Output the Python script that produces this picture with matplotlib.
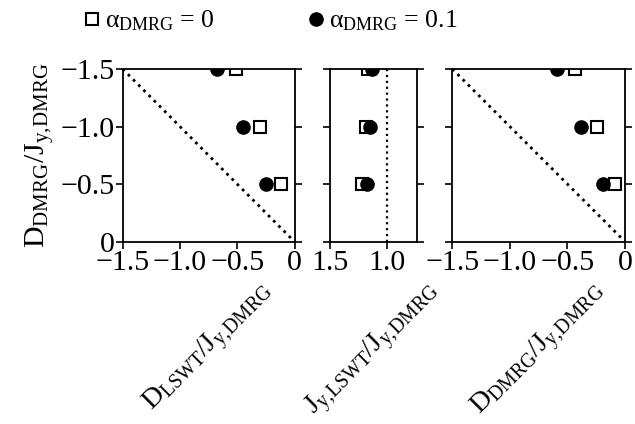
import numpy as np
import matplotlib
matplotlib.use("Agg")
from matplotlib import pyplot as plt

plt.rcParams['font.family'] = ['Liberation Serif', 'DejaVu Serif']
plt.rcParams['mathtext.fontset'] = 'custom'
plt.rcParams['mathtext.rm'] = 'Liberation Serif'
plt.rcParams['mathtext.it'] = 'Liberation Serif:italic'
plt.rcParams['mathtext.bf'] = 'Liberation Serif:bold'

# input D/J_y used in the DMRG runs
d_input = [-0.5, -1.0, -1.5]

# fitted values, alpha_DMRG = 0 (open squares) and 0.1 (filled circles)
d_lswt_a0 = [-0.115, -0.30, -0.51]
d_lswt_a01 = [-0.245, -0.45, -0.675]
j_lswt_a0 = [1.22, 1.19, 1.17]
j_lswt_a01 = [1.18, 1.15, 1.13]
d_dmrg_a0 = [-0.085, -0.245, -0.435]
d_dmrg_a01 = [-0.195, -0.385, -0.595]

d_ticks = [-1.5, -1.0, -0.5, 0]
d_tick_labels = ['\u22121.5', '\u22121.0', '\u22120.5', '0']
j_ticks = [1.5, 1.0]
j_tick_labels = ['1.5', '1.0']

fs_tick = 21.5
fs_label = 20.3

fig = plt.figure(figsize=(6.35, 4.24), dpi=100)
bottom, height = 0.430, 0.4073
ax1 = fig.add_axes([0.1932, bottom, 0.2706, height])
ax2 = fig.add_axes([0.5197, bottom, 0.1365, height])
ax3 = fig.add_axes([0.7123, bottom, 0.2720, height])

sq = dict(marker='s', ms=8.2, mfc='white', mec='black', mew=1.5, ls='none')
ci = dict(marker='o', ms=9.5, mfc='black', mec='black', ls='none')

for ax, xa, xb in [(ax1, d_lswt_a0, d_lswt_a01),
                   (ax2, j_lswt_a0, j_lswt_a01),
                   (ax3, d_dmrg_a0, d_dmrg_a01)]:
    h0, = ax.plot(xa, d_input, **sq)
    h1, = ax.plot(xb, d_input, **ci)
    ax.set_ylim(0, -1.5)
    ax.set_yticks(d_ticks)
    ax.tick_params(direction='out', length=5, width=1.2, top=False,
                   left=True, right=True, labelsize=fs_tick, pad=1)
    for s in ax.spines.values():
        s.set_linewidth(1.3)

ax1.plot([-1.5, 0], [-1.5, 0], ls=':', color='black', lw=2)
ax3.plot([-1.5, 0], [-1.5, 0], ls=':', color='black', lw=2)
ax2.axvline(1.0, ls=':', color='black', lw=1.6)

for ax in (ax1, ax3):
    ax.set_xlim(-1.5, 0)
    ax.set_xticks(d_ticks)
    ax.set_xticklabels(d_tick_labels)
ax2.set_xlim(1.5, 0.744)
ax2.set_xticks(j_ticks)
ax2.set_xticklabels(j_tick_labels)

ax1.set_yticklabels(d_tick_labels)
ax2.tick_params(labelleft=False)
ax3.tick_params(labelleft=False)

ax1.set_ylabel(r'$\mathrm{D_{DMRG}/J_{y,\!DMRG}}$', fontsize=21.5, labelpad=3)
ax1.set_xlabel(r'$\mathrm{D_{LSWT}/J_{y,\!DMRG}}$', fontsize=fs_label, rotation=45, labelpad=0)
ax2.set_xlabel(r'$\mathrm{J_{y,\!LSWT}/J_{y,\!DMRG}}$', fontsize=fs_label, rotation=45, labelpad=0)
ax3.set_xlabel(r'$\mathrm{D_{DMRG}/J_{y,\!DMRG}}$', fontsize=fs_label, rotation=45, labelpad=0)

fig.legend([h0, h1], ['\u03b1$_{\\mathrm{DMRG}}$ = 0', '\u03b1$_{\\mathrm{DMRG}}$ = 0.1'],
           loc='upper left', bbox_to_anchor=(0.097, 1.034), ncol=2, frameon=False,
           fontsize=18.5, handlelength=0.6, handletextpad=0.2, columnspacing=3.65)

fig.savefig('out.png', dpi=100)
